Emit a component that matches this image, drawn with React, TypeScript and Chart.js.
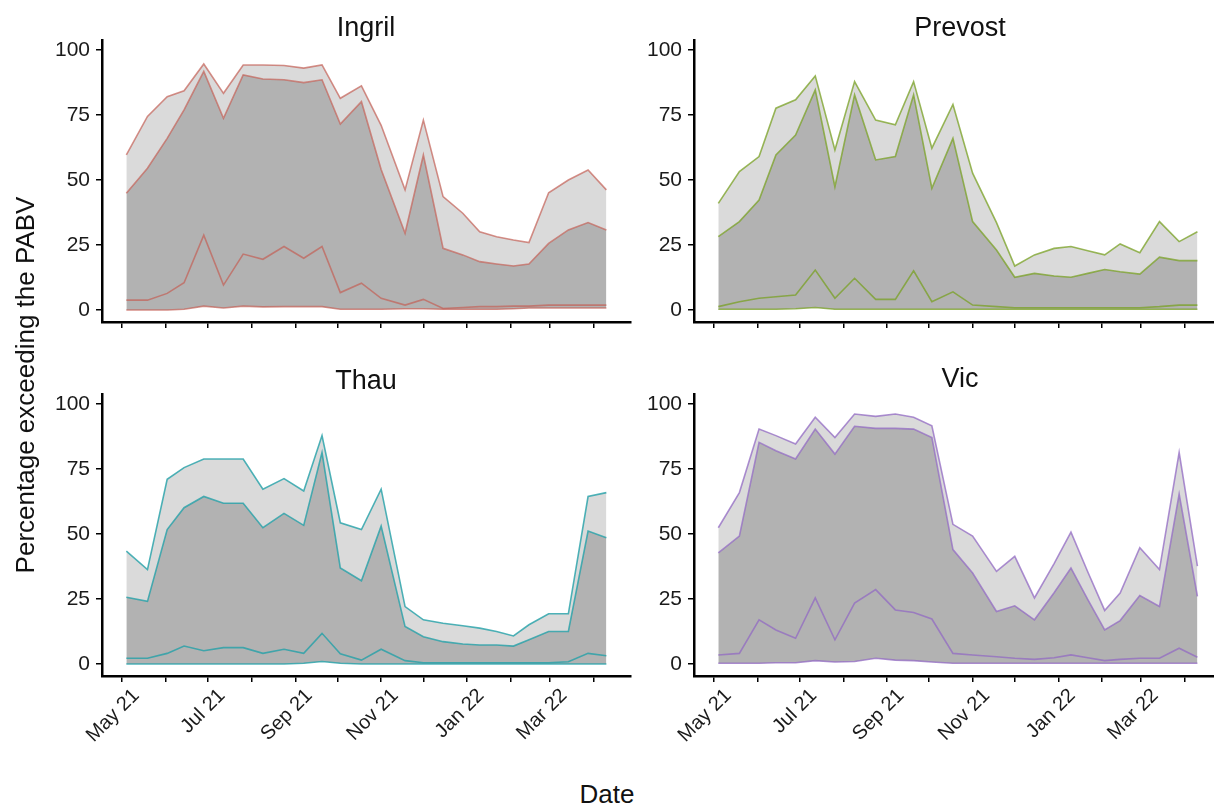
import React, { useEffect, useRef } from "react";
import { Chart, registerables } from "chart.js";

Chart.register(...registerables);
Chart.defaults.font.family = "'Liberation Sans', Arial, sans-serif";

// ---------- data ----------
const sampleDates = [
  "2021-05-04", "2021-05-19", "2021-06-02", "2021-06-14", "2021-06-28", "2021-07-12",
  "2021-07-26", "2021-08-09", "2021-08-24", "2021-09-07", "2021-09-20", "2021-10-03",
  "2021-10-18", "2021-11-01", "2021-11-18", "2021-12-01", "2021-12-15", "2021-12-29",
  "2022-01-10", "2022-01-22", "2022-02-03", "2022-02-14", "2022-02-28", "2022-03-14",
  "2022-03-28", "2022-04-10",
];
const monthTicks = [
  "2021-05-01", "2021-06-01", "2021-07-01", "2021-08-01", "2021-09-01", "2021-10-01",
  "2021-11-01", "2021-12-01", "2022-01-01", "2022-02-01", "2022-03-01", "2022-04-01",
];
const monthTickLabels = ["May 21", "", "Jul 21", "", "Sep 21", "", "Nov 21", "", "Jan 22", "", "Mar 22", ""];
const yTicks = [0, 25, 50, 75, 100];

const ingrilUpper = [59.6, 74.4, 82, 84.3, 94.6, 83.3, 94.2, 94.2, 94, 93, 94.2, 81.4, 86.2, 71, 46.2, 73, 43.6, 37.2, 30.1, 28.2, 26.9, 25.9, 45.1, 50, 53.8, 46.2];
const ingrilMid = [44.9, 54.5, 66, 76.9, 91.7, 73.7, 90.4, 88.8, 88.5, 87.4, 88.5, 71.5, 80.1, 54, 29.5, 59.6, 23.7, 21.2, 18.6, 17.7, 16.9, 17.7, 25.6, 30.8, 33.6, 30.8];
const ingrilLow = [3.8, 3.8, 6.4, 10.5, 28.8, 9.6, 21.5, 19.5, 24.4, 19.9, 24.4, 6.7, 10.3, 4.5, 1.9, 4.1, 0.6, 1, 1.3, 1.3, 1.5, 1.5, 1.9, 1.9, 1.9, 1.9];
const ingrilMin = [0, 0, 0, 0.3, 1.5, 0.8, 1.5, 1.2, 1.3, 1.3, 1.3, 0.3, 0.3, 0.3, 0.5, 0.5, 0.3, 0.3, 0.3, 0.3, 0.5, 0.8, 0.8, 0.8, 0.8, 0.8];

const prevostUpper = [41, 53.2, 59, 77.6, 80.8, 90, 61.5, 87.8, 73, 71.2, 87.8, 62.2, 79, 52.6, 33.6, 16.9, 21.2, 23.7, 24.4, 22.8, 21.2, 25.4, 22, 34, 26.3, 30.1];
const prevostMid = [28.2, 34, 42.3, 59.6, 67.3, 84.6, 47.4, 82.7, 57.7, 59, 82.7, 46.8, 66, 34, 23.1, 12.6, 14.1, 13.1, 12.6, 14.1, 15.6, 14.7, 13.8, 20.3, 19, 19];
const prevostLow = [1.3, 3.2, 4.5, 5.1, 5.8, 15.4, 4.5, 12.2, 4.1, 4.1, 15.1, 3.2, 7, 1.9, 1.3, 0.9, 0.9, 0.9, 0.9, 0.9, 0.9, 0.9, 0.9, 1.3, 1.9, 1.9];
const prevostMin = [0.3, 0.3, 0.3, 0.3, 0.5, 1, 0.3, 0.3, 0.3, 0.3, 0.3, 0.3, 0.3, 0.3, 0.3, 0.3, 0.3, 0.3, 0.3, 0.3, 0.3, 0.3, 0.3, 0.3, 0.3, 0.3];

const thauUpper = [43.4, 36.3, 71, 75.5, 78.8, 78.8, 78.8, 67.2, 71.3, 66.5, 87.8, 54.3, 51.7, 67.2, 22.1, 17, 15.7, 14.7, 13.8, 12.5, 10.8, 15.1, 19.3, 19.3, 64.4, 65.9];
const thauMid = [25.7, 24.1, 51.7, 60.1, 64.4, 61.8, 61.8, 52.4, 57.9, 53.3, 81.3, 36.9, 32, 53, 14.4, 10.5, 8.6, 7.7, 7.3, 7.3, 6.9, 9.3, 12.5, 12.5, 51.1, 48.5];
const thauLow = [2.2, 2.2, 4.1, 6.9, 5.1, 6.3, 6.3, 4.1, 5.7, 4.1, 11.8, 3.9, 1.5, 5.7, 1.3, 0.5, 0.5, 0.5, 0.5, 0.5, 0.5, 0.5, 0.5, 0.9, 4.1, 3.2];
const thauMin = [0, 0, 0, 0, 0, 0, 0, 0, 0, 0.3, 1, 0.3, 0, 0, 0, 0, 0, 0, 0, 0, 0, 0, 0, 0, 0, 0];

const vicUpper = [52.4, 65.9, 90.3, 87.8, 84.6, 94.9, 87.1, 96.1, 95.2, 96.1, 94.9, 91.6, 53.7, 49.2, 35.6, 41.4, 25.4, 38.6, 50.7, 35.4, 20.6, 27.3, 44.7, 36.3, 81.3, 37.6];
const vicMid = [42.7, 49.2, 85.2, 82, 78.8, 90.3, 80.7, 91.4, 90.6, 90.6, 90.3, 87.1, 44, 35, 20.2, 22.4, 17, 27.4, 36.9, 24.8, 13.1, 16.7, 26.3, 22.1, 65.3, 26];
const vicLow = [3.5, 4.1, 17, 13.1, 9.9, 25.4, 9.3, 23.4, 28.6, 20.8, 19.8, 17.3, 4.1, 3.5, 2.8, 2.2, 1.8, 2.4, 3.5, 2.4, 1.3, 1.8, 2.2, 2.2, 6.1, 2.6];
const vicMin = [0.3, 0.3, 0.3, 0.5, 0.5, 1.3, 0.8, 1, 2.2, 1.5, 1.3, 0.8, 0.3, 0.3, 0.3, 0.3, 0.3, 0.3, 0.3, 0.3, 0.3, 0.3, 0.3, 0.3, 0.3, 0.3];

// ---------- helpers ----------
const ORIGIN = Date.UTC(2021, 4, 1);
const toDay = (s: string) => {
  const [y, m, d] = s.split("-").map(Number);
  return (Date.UTC(y, m - 1, d) - ORIGIN) / 86400000;
};
const xDays = sampleDates.map(toDay);
const tickDays = monthTicks.map(toDay);
const X_MIN = -14.3;
const X_MAX = 361.5;
const Y_MIN = -4.6;
const Y_MAX = 103.8;

const LIGHT = "#dadada";
const DARK = "#b2b2b2";
const TEXT = "#1a1a1a";

type Geo = { cl: number; ct: number; cw: number; ch: number; al: number; at: number; ar: number; ab: number };

type PanelProps = {
  series: number[][];
  color: string;
  geo: Geo;
  showLabels: boolean;
};

function Panel({ series, color, geo, showLabels }: PanelProps) {
  const ref = useRef<HTMLCanvasElement | null>(null);
  useEffect(() => {
    if (!ref.current) return;
    const pts = (arr: number[]) => arr.map((v, i) => ({ x: xDays[i], y: v }));
    const [mn, lo, mid, up] = series;
    const lineBase = { borderColor: color, borderWidth: 1.6, pointRadius: 0, tension: 0 };
    const chart = new Chart(ref.current, {
      type: "line",
      data: {
        datasets: [
          { ...lineBase, data: pts(mn), fill: false },
          { ...lineBase, data: pts(lo), fill: false },
          { ...lineBase, data: pts(mid), fill: { target: 0 }, backgroundColor: DARK },
          { ...lineBase, data: pts(up), fill: { target: 2 }, backgroundColor: LIGHT },
        ],
      },
      options: {
        animation: false,
        responsive: false,
        maintainAspectRatio: false,
        layout: { padding: { top: geo.at - geo.ct, right: geo.cl + geo.cw - geo.ar, left: 0, bottom: 0 } },
        plugins: { legend: { display: false }, tooltip: { enabled: false } },
        scales: {
          x: {
            type: "linear",
            min: X_MIN,
            max: X_MAX,
            afterBuildTicks: (s: any) => {
              s.ticks = tickDays.map((v) => ({ value: v }));
            },
            afterFit: (s: any) => {
              s.height = geo.ct + geo.ch - geo.ab;
              s.paddingLeft = 0;
              s.paddingRight = 0;
            },
            ticks: {
              autoSkip: false,
              maxRotation: 45,
              minRotation: 45,
              padding: 2,
              labelOffset: 14,
              color: TEXT,
              font: { size: 20 },
              callback: (v: any) => {
                if (!showLabels) return "";
                const i = tickDays.indexOf(Number(v));
                return i >= 0 ? monthTickLabels[i] : "";
              },
            },
            grid: { drawOnChartArea: false, drawTicks: true, tickLength: 6, color: "#000", lineWidth: 1.5 },
            border: { display: true, color: "#000", width: 2.5 },
          },
          y: {
            type: "linear",
            min: Y_MIN,
            max: Y_MAX,
            afterBuildTicks: (s: any) => {
              s.ticks = yTicks.map((v) => ({ value: v }));
            },
            afterFit: (s: any) => {
              s.width = geo.al - geo.cl;
              s.paddingTop = 0;
              s.paddingBottom = 0;
            },
            ticks: { padding: 6, color: TEXT, font: { size: 21 }, callback: (v: any) => String(v) },
            grid: { drawOnChartArea: false, drawTicks: true, tickLength: 6, color: "#000", lineWidth: 1.5 },
            border: { display: true, color: "#000", width: 2.5 },
          },
        },
      },
    } as any);
    return () => chart.destroy();
  }, []);
  return (
    <canvas
      ref={ref}
      width={geo.cw}
      height={geo.ch}
      style={{ position: "absolute", left: geo.cl, top: geo.ct, width: geo.cw, height: geo.ch }}
    />
  );
}

const titleStyle = (cx: number, top: number): React.CSSProperties => ({
  position: "absolute",
  left: cx - 100,
  width: 200,
  top,
  textAlign: "center",
  fontSize: 27,
  lineHeight: "27px",
  fontFamily: "'Liberation Sans', Arial, sans-serif",
  color: "#111",
});

export default function App() {
  const tl: Geo = { cl: 0, ct: 30, cw: 640, ch: 330, al: 102, at: 40, ar: 631, ab: 322 };
  const tr: Geo = { cl: 640, ct: 30, cw: 600, ch: 330, al: 694, at: 40, ar: 1222, ab: 322 };
  const bl: Geo = { cl: 0, ct: 384, cw: 640, ch: 390, al: 102, at: 394, ar: 631, ab: 676 };
  const br: Geo = { cl: 640, ct: 384, cw: 600, ch: 390, al: 694, at: 394, ar: 1222, ab: 676 };
  return (
    <div style={{ position: "fixed", left: 0, top: 0, width: 1214, height: 809, overflow: "hidden", background: "#fff" }}>
      <Panel series={[ingrilMin, ingrilLow, ingrilMid, ingrilUpper]} color="rgba(195,95,85,0.7)" geo={tl} showLabels={false} />
      <Panel series={[prevostMin, prevostLow, prevostMid, prevostUpper]} color="rgba(120,160,35,0.75)" geo={tr} showLabels={false} />
      <Panel series={[thauMin, thauLow, thauMid, thauUpper]} color="rgba(35,160,168,0.8)" geo={bl} showLabels={true} />
      <Panel series={[vicMin, vicLow, vicMid, vicUpper]} color="rgba(145,105,195,0.75)" geo={br} showLabels={true} />
      <div style={titleStyle(366, 14)}>Ingril</div>
      <div style={titleStyle(960, 14)}>Prevost</div>
      <div style={titleStyle(366, 367)}>Thau</div>
      <div style={titleStyle(960, 365)}>Vic</div>
      <div
        style={{
          position: "absolute",
          left: 25 - 250,
          top: 385 - 14,
          width: 500,
          height: 28,
          lineHeight: "28px",
          textAlign: "center",
          fontSize: 26,
          fontFamily: "'Liberation Sans', Arial, sans-serif",
          color: "#111",
          transform: "rotate(-90deg)",
          whiteSpace: "nowrap",
        }}
      >
        Percentage exceeding the PABV
      </div>
      <div
        style={{
          position: "absolute",
          left: 607 - 100,
          top: 781,
          width: 200,
          textAlign: "center",
          fontSize: 26,
          lineHeight: "26px",
          fontFamily: "'Liberation Sans', Arial, sans-serif",
          color: "#111",
        }}
      >
        Date
      </div>
    </div>
  );
}
